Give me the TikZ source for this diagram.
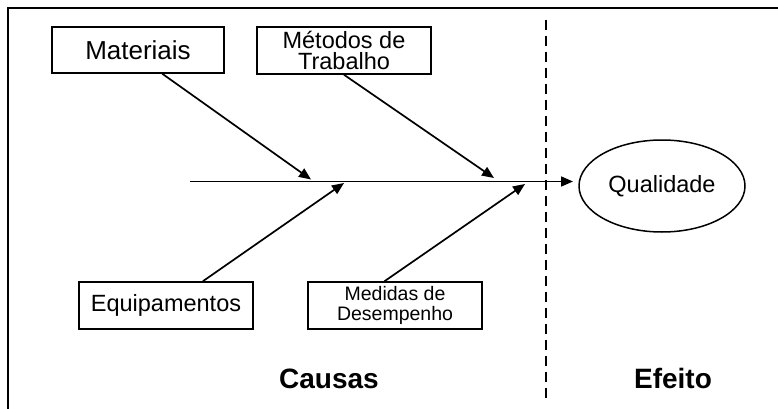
\documentclass[tikz,border=0pt]{standalone}
\usepackage{fontspec}
\setmainfont{Liberation Sans}
\usetikzlibrary{shapes.geometric,arrows.meta,calc}
\tikzset{
  causebox/.style={draw, line width=1.5pt, minimum width=174pt, minimum height=47pt,
    inner sep=0pt, align=center},
  bone/.style={line width=1.7pt, -{Triangle[length=12pt,width=10pt]}},
  title/.style={font=\fontsize{28}{28}\selectfont\bfseries}
}
\begin{document}
\begin{tikzpicture}[x=1pt,y=-1pt]
      \useasboundingbox (0,0) rectangle (778,409);
      \draw[line width=2pt] (8,409) -- (8,8.5) -- (778,8.5);
      \node[causebox, minimum width=172pt, minimum height=46pt,
        font=\fontsize{26}{26}\selectfont] (mat) at (138,50) {Materiais};
      \node[causebox, font=\fontsize{23.5}{21.5}\selectfont] (met) at (344,50.5)
        {Métodos de\\Trabalho};
      \node[causebox, font=\fontsize{23.5}{23.5}\selectfont] (equ) at (166,305.5)
        {Equipamentos};
      \node[causebox, font=\fontsize{19.5}{20}\selectfont] (med) at (395,305.5)
        {Medidas de\\Desempenho};
      \node[ellipse, draw, line width=1.5pt, minimum width=166pt, minimum height=92pt,
        inner sep=0pt, font=\fontsize{23.5}{23.5}\selectfont] (qual) at (662,186) {Qualidade};
      \node[title] (causas) at (329,379) {Causas};
      \node[title] (efeito) at (673,378) {Efeito};
      \coordinate (tail) at (190,181.5);
      \coordinate (head) at (573,181.5);
      \coordinate (t1) at (311,179.5);
      \coordinate (t2) at (344,183);
      \coordinate (t3) at (494,178);
      \coordinate (t4) at (525,184);
      \draw[line width=1.7pt, dash pattern=on 10pt off 6pt] (546,20) -- (546,400);
      \begin{scope}[bone]
        \draw (tail) to (head);
        \draw ($(mat.south west)!0.64!(mat.south east)$) to (t1);
        \draw ($(equ.north west)!0.71!(equ.north east)$) to (t2);
        \draw (met.south) to (t3);
        \draw ($(med.north west)!0.44!(med.north east)$) to (t4);
      \end{scope}
    \end{tikzpicture}
\end{document}
